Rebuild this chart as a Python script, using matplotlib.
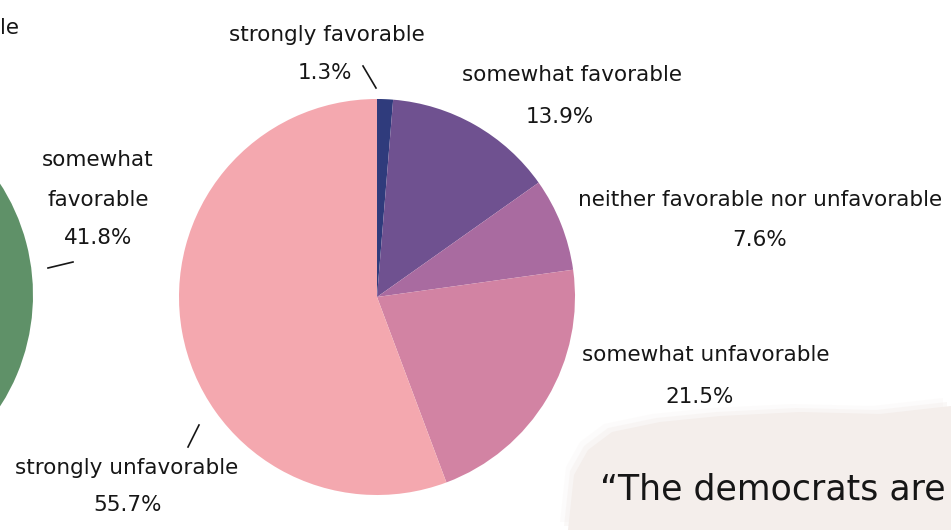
import matplotlib
matplotlib.use("Agg")
import matplotlib.pyplot as plt
from matplotlib.patches import Polygon

# Survey results, percent of respondents
labels = ["strongly favorable", "somewhat favorable",
          "neither favorable nor unfavorable", "somewhat unfavorable",
          "strongly unfavorable"]
shares = [1.3, 13.9, 7.6, 21.5, 55.7]
colors = ["#2f3b7c", "#6f5190", "#a96ba0", "#d283a3", "#f4a8af"]

# neighbouring chart, only its right edge is in frame
left_shares = [41.8]
left_colors = ["#5f9168"]

W, H = 951, 530
plt.rcParams["font.family"] = ["DejaVu Sans"]
ink = "#161616"

fig = plt.figure(figsize=(W / 100, H / 100), dpi=100)
ax = fig.add_axes([0, 0, 1, 1])


def py(y):
    # pixel rows counted from the top
    return H - y


# soft beige backdrop behind the quote
blob = [(568, 530), (574, 475), (588, 450), (612, 432), (660, 422), (720, 416),
        (800, 412), (880, 414), (951, 406), (951, 530)]
for grow, a in [(8, 0.2), (4, 0.4), (0, 1.0)]:
    pts = [(x - grow, py(y - grow)) for x, y in blob]
    ax.add_patch(Polygon(pts, closed=True, facecolor="#f4eeeb",
                         edgecolor="none", alpha=a, zorder=0))

ax.pie([s / 100 for s in left_shares], colors=left_colors, normalize=False,
       startangle=90, counterclock=False, center=(-172, py(295)), radius=205,
       wedgeprops=dict(linewidth=0), frame=True)

ax.pie(shares, colors=colors, startangle=90, counterclock=False,
       center=(377, py(297)), radius=198,
       wedgeprops=dict(linewidth=0), frame=True)

fs = 15.5
kw = dict(ha="center", va="center", fontsize=fs, color=ink)
ax.text(327, py(35), labels[0], **kw)
ax.text(325, py(73), f"{shares[0]}%", **kw)
ax.plot([363, 376], [py(66), py(88)], color=ink, lw=1.2)

ax.text(572, py(75), labels[1], **kw)
ax.text(560, py(117), f"{shares[1]}%", **kw)

ax.text(760, py(200), labels[2], **kw)
ax.text(760, py(240), f"{shares[2]}%", **kw)

ax.text(706, py(355), labels[3], **kw)
ax.text(700, py(397), f"{shares[3]}%", **kw)

ax.text(127, py(468), labels[4], **kw)
ax.text(128, py(505), f"{shares[4]}%", **kw)
ax.plot([188, 199], [py(447), py(425)], color=ink, lw=1.2)

# labels belonging to the neighbouring chart
ax.text(0, py(28), "le", ha="left", va="center", fontsize=fs, color=ink)
ax.text(98, py(160), "somewhat", **kw)
ax.text(98, py(200), "favorable", **kw)
ax.text(98, py(238), f"{left_shares[0]}%", **kw)
ax.plot([48, 73], [py(268), py(262)], color=ink, lw=1.2)

ax.text(600, py(490), "\u201cThe democrats are", ha="left", va="center",
        fontsize=25, color=ink)

ax.set_xlim(0, W)
ax.set_ylim(0, H)
ax.axis("off")

fig.savefig("out.png", dpi=100, facecolor="white")
